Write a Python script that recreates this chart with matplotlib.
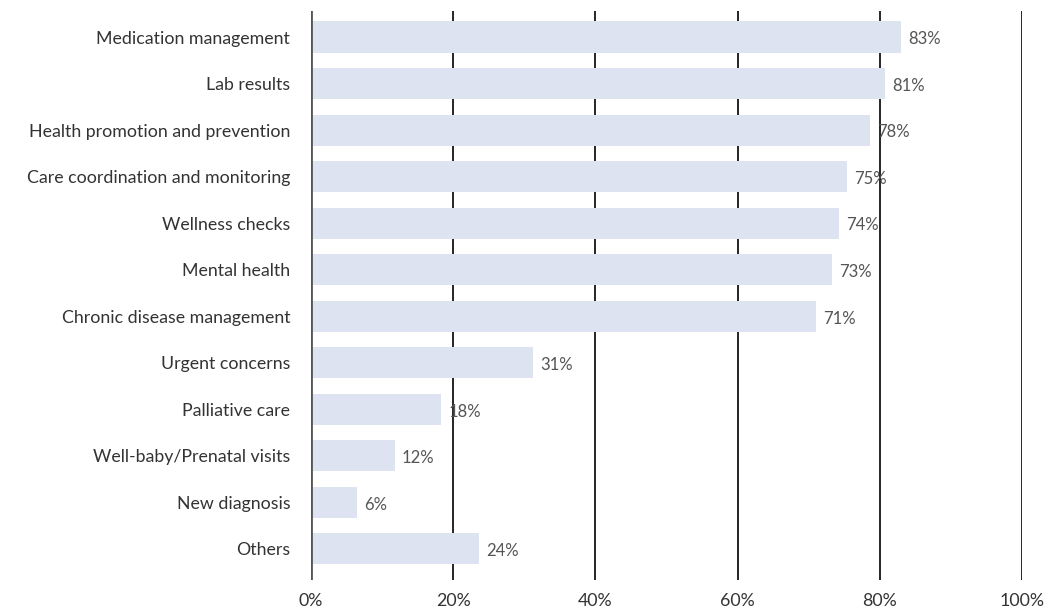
import matplotlib.pyplot as plt

plt.rcParams['font.family'] = ['Lato', 'DejaVu Sans']

categories = ["Medication management", "Lab results", "Health promotion and prevention",
              "Care coordination and monitoring", "Wellness checks", "Mental health",
              "Chronic disease management", "Urgent concerns", "Palliative care",
              "Well-baby/Prenatal visits", "New diagnosis", "Others"]
values = [83, 81, 78, 75, 74, 73, 71, 31, 18, 12, 6, 24]
bar_ends = [83.0, 80.7, 78.6, 75.4, 74.3, 73.3, 71.0, 31.2, 18.3, 11.8, 6.5, 23.6]
xticks = [0, 20, 40, 60, 80, 100]

fig = plt.figure(figsize=(10.52, 6.14), dpi=100)
ax = fig.add_axes([311 / 1052, 1 - 580 / 614, (1022 - 311) / 1052, (580 - 11) / 614])

y = list(range(len(categories)))
ax.barh(y, bar_ends, height=0.67, color="#dde3f0", zorder=2)
for yi, v, e in zip(y, values, bar_ends):
    ax.text(e + 1.0, yi + 0.05, f"{v}%", va="center", ha="left", fontsize=12,
            color="#555555", zorder=3)

for xt in xticks[1:]:
    ax.axvline(xt, color="black", linewidth=1.2, zorder=1)
ax.axvline(0, color="#555555", linewidth=2, zorder=3)

ax.set_xlim(0, 100)
ax.set_ylim(len(categories) - 1 + 0.67, -0.56)
ax.set_yticks(y)
ax.set_yticklabels(categories, fontsize=12.8, color="#333333")
ax.set_xticks(xticks)
ax.set_xticklabels([f"{t}%" for t in xticks], fontsize=12.8, color="#333333")
ax.tick_params(axis="both", length=0)
ax.tick_params(axis="y", pad=15)
ax.tick_params(axis="x", pad=9)
for s in ax.spines.values():
    s.set_visible(False)

fig.savefig("out.png", dpi=100)
